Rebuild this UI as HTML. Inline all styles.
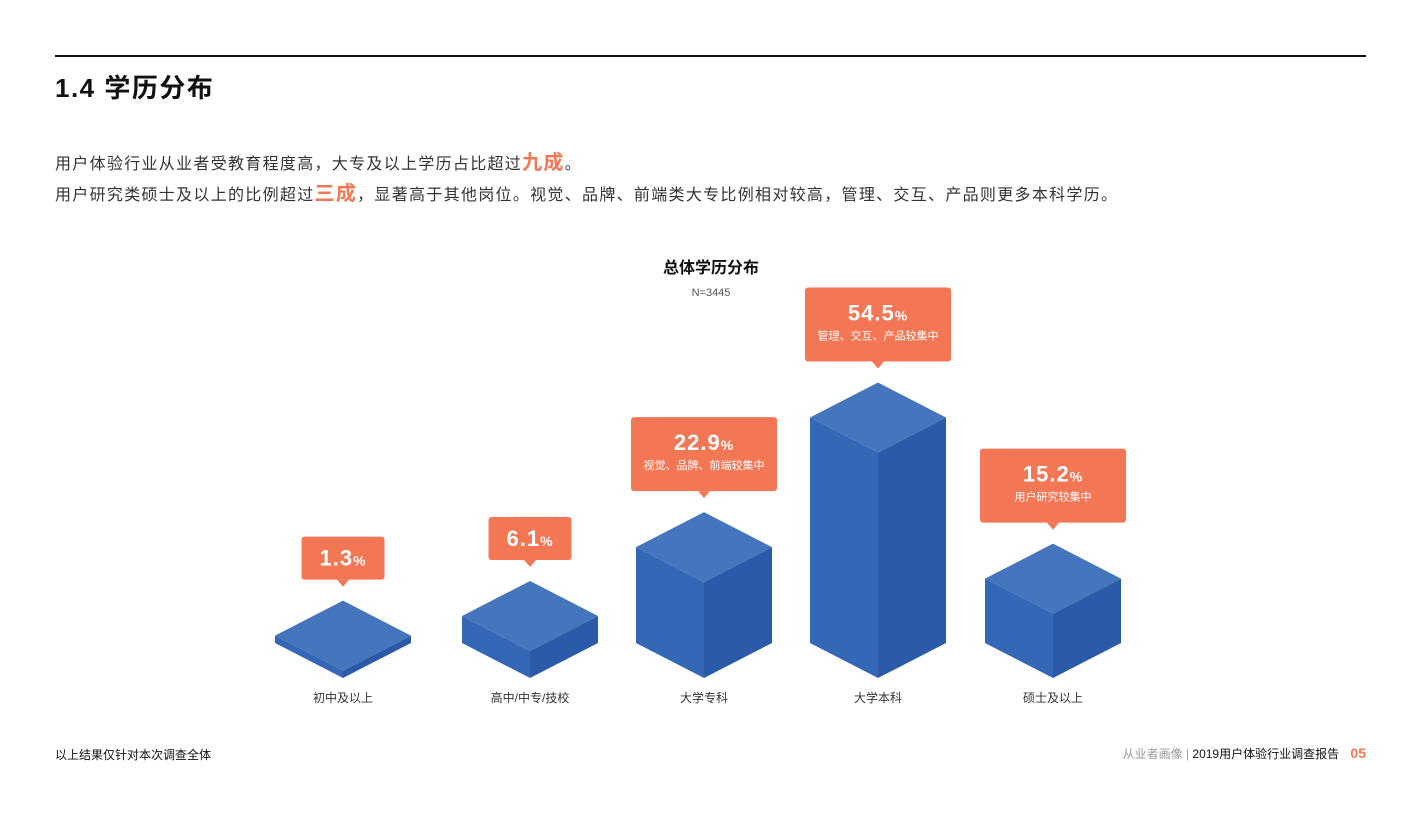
<!DOCTYPE html>
<html><head><meta charset="utf-8"><style>
body{margin:0;width:1421px;height:816px;background:#fff;font-family:"Liberation Sans","Noto Sans CJK SC",sans-serif;overflow:hidden;position:relative}
.abs{position:absolute}
</style></head><body>
<div class="abs" style="left:55px;top:55px;width:1311px;height:2px;background:#111"></div>
<div class="abs" style="left:55px;top:68px;font-size:26px;font-weight:bold;color:#111;letter-spacing:1.5px">1.4 学历分布</div>
<div class="abs" style="left:55px;top:150px;font-size:16px;color:#333;line-height:26px;letter-spacing:1.3px">用户体验行业从业者受教育程度高，大专及以上学历占比超过<b style="color:#f47755;font-size:20px">九成</b>。</div>
<div class="abs" style="left:55px;top:181px;font-size:16px;color:#333;line-height:26px;letter-spacing:1.3px">用户研究类硕士及以上的比例超过<b style="color:#f47755;font-size:20px">三成</b>，显著高于其他岗位。视觉、品牌、前端类大专比例相对较高，管理、交互、产品则更多本科学历。</div>
<svg class="abs" style="left:0;top:0" width="1421" height="816">
<text x="711" y="273" text-anchor="middle" font-size="16" font-weight="bold" fill="#111">总体学历分布</text>
<text x="711" y="296" text-anchor="middle" font-size="11" fill="#555">N=3445</text>
<g id="bars"></g>
</svg>
<div class="abs" style="left:55px;top:746px;font-size:12px;color:#111">以上结果仅针对本次调查全体</div>
<div class="abs" style="right:55px;top:745px;font-size:12px;color:#111"><span style="color:#999">从业者画像 | </span>2019用户体验行业调查报告 <b style="color:#f47755;font-size:14px;margin-left:8px">05</b></div>
<script>
const categories=["初中及以上","高中/中专/技校","大学专科","大学本科","硕士及以上"];
const values=[1.3,6.1,22.9,54.5,15.2];
const notes=["","","视觉、品牌、前端较集中","管理、交互、产品较集中","用户研究较集中"];
const ns="http://www.w3.org/2000/svg";
const g=document.getElementById('bars');
const centers=[343,530,704,878,1053];
const xPos=i=>centers[i];
const hScale=v=>4.1*v+2;
const base=678,hw=68,hh=35;
function mk(t,a){const e=document.createElementNS(ns,t);for(const k in a)e.setAttribute(k,a[k]);g.appendChild(e);return e;}
categories.forEach((c,i)=>{
 const cx=xPos(i),h=hScale(values[i]);
 const bt=base-h;
 let e=mk('polygon',{points:`${cx-hw},${bt-hh} ${cx},${bt} ${cx},${base} ${cx-hw},${base-hh}`,fill:'#3467b5'});
 
 
 e=mk('polygon',{points:`${cx+hw},${bt-hh} ${cx},${bt} ${cx},${base} ${cx+hw},${base-hh}`,fill:'#2b5aa8'});
 
 
 e=mk('polygon',{points:`${cx},${bt-2*hh} ${cx+hw},${bt-hh} ${cx},${bt} ${cx-hw},${bt-hh}`,fill:'#4575bc'});
 
 
 const topV=bt-2*hh, bb=topV-21;
 const big=notes[i]!=="";
 const w=big?146:83, bh=big?74:43;
 e=mk('rect',{x:cx-w/2,y:bb-bh,width:w,height:bh,rx:3,fill:'#f47755'});
 
 
 e=mk('polygon',{points:`${cx-6},${bb} ${cx+6},${bb} ${cx},${bb+7}`,fill:'#f47755'});
 
 
 e=mk('text',{x:cx,y:bb-bh+(big?33:29),'text-anchor':'middle','font-size':22,'font-weight':'bold',fill:'#fff','letter-spacing':1});
 e.innerHTML=values[i]+'<tspan font-size="14">%</tspan>';
 
 
 if(big){e=mk('text',{x:cx,y:bb-bh+52,'text-anchor':'middle','font-size':11,fill:'#fff'});e.textContent=notes[i];
 
 }
 e=mk('text',{x:cx,y:702,'text-anchor':'middle','font-size':12,fill:'#333'});e.textContent=c;
 
 
});
</script>
</body></html>
